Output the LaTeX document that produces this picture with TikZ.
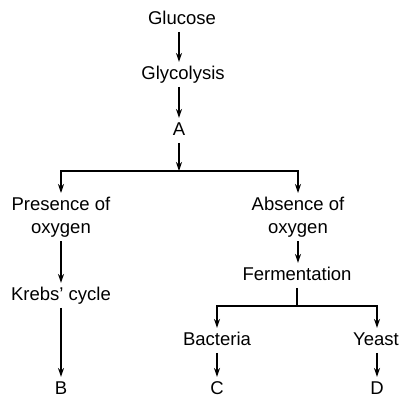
\documentclass[tikz,border=0pt]{standalone}
\usepackage{fontspec}
\setmainfont{Liberation Sans}
\usepackage{tikz}
\usetikzlibrary{arrows.meta}

\begin{document}
\begin{tikzpicture}[x=1pt,y=-1pt,line width=1.1pt,
  lbl/.style={anchor=base,inner sep=3.5pt,text height=13pt,text depth=3.8pt,font=\fontsize{18.5}{23}\selectfont},
  lbl2/.style={anchor=north,inner sep=3.5pt,align=center,font=\fontsize{18.5}{23}\selectfont},
  arr/.style={-{Stealth[length=9pt,width=6pt]}}]
\useasboundingbox (0,0) rectangle (404,405);
% main column
\node[lbl] (gluc) at (182,24) {Glucose};
\node[lbl] (glyc) at (183,79) {Glycolysis};
\node[lbl] (a) at (179,135) {A};
\coordinate (split) at (179,171);
\node[lbl2] (pres) at (61,193) {Presence of\\oxygen};
\node[lbl2] (abs) at (298,193) {Absence of\\oxygen};
\draw[arr] (gluc.south -| a) -- (glyc.north -| a);
\draw[arr] (glyc.south -| a) -- (a.north);
\draw[arr] (a.south) -- (split);
\draw[arr] (split) -| (pres.north);
\draw[arr] (split) -| (abs.north);
% with oxygen
\node[lbl] (krebs) at (61,300) {Krebs' cycle};
\node[lbl] (b) at (61,394) {B};
\draw[arr] (pres.south) -- (krebs.north);
\draw[arr] (krebs.south) -- (b.north);
% without oxygen
\node[lbl] (ferm) at (297,280) {Fermentation};
\coordinate (fork) at (297,306);
\node[lbl] (bact) at (217,345) {Bacteria};
\node[lbl] (yeast) at (376,345) {Yeast};
\node[lbl] (c) at (217,394) {C};
\node[lbl] (d) at (377,394) {D};
\draw[arr] (abs.south) -- (ferm.north -| abs);
\draw (ferm.south) -- (fork);
\draw[arr] (fork) -| (bact.north);
\draw[arr] (fork) -| (yeast.north -| d);
\draw[arr] (bact.south) -- (c.north);
\draw[arr] (yeast.south -| d) -- (d.north);
\end{tikzpicture}
\end{document}
